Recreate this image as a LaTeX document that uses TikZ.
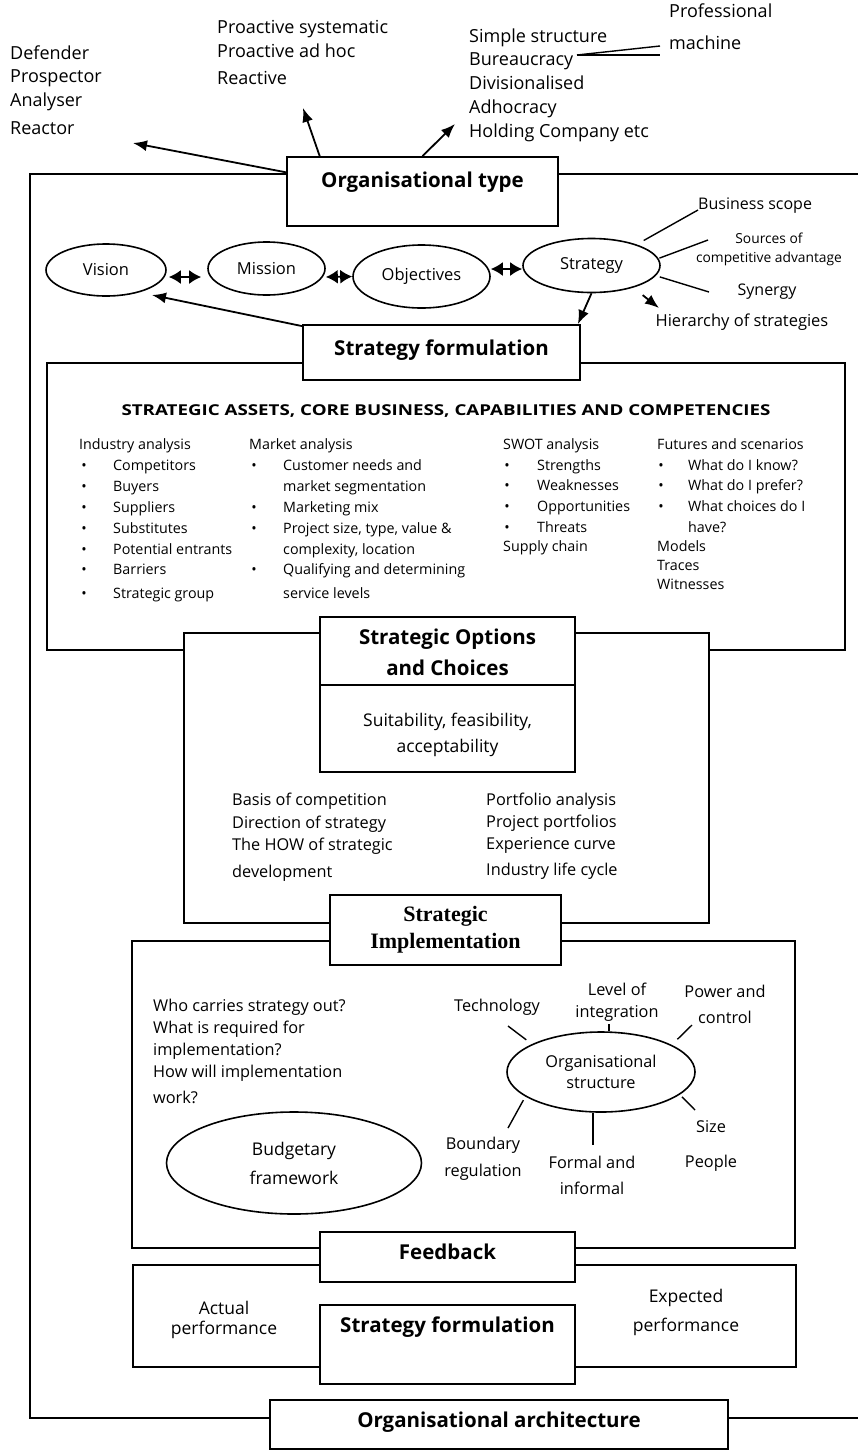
\documentclass[tikz,border=0pt]{standalone}
\usepackage{fontspec}
\usepackage{graphicx}
\setmainfont{Open Sans}
\newfontfamily\timesface{Liberation Serif}
\usetikzlibrary{arrows.meta,shapes.geometric}

\begin{document}
\begin{tikzpicture}[x=1pt,y=-1pt,
  frameline/.style={line width=1.8pt},
  panel/.style={draw, fill=white, inner sep=0pt, line width=1.8pt},
  oval/.style={draw, ellipse, inner sep=0pt, line width=1.6pt, align=center},
  txt/.style={inner sep=0pt, text height=1.45ex, text depth=.35ex},
  toptxt/.style={txt, font=\fontsize{18}{21}\selectfont},
  ovaltxt/.style={font=\fontsize{16.5}{19}\selectfont},
  smalltxt/.style={txt, font=\fontsize{14.3}{17}\selectfont},
  midtxt/.style={txt, font=\fontsize{16.3}{20}\selectfont},
  headtxt/.style={txt, font=\bfseries\fontsize{20.5}{25}\selectfont},
  ml/.style={inner sep=0pt, align=center},
  arr/.style={-{Latex[length=14pt,width=11pt]}, line width=1.8pt},
  dbl/.style={{Latex[length=12pt,width=14pt]}-{Latex[length=12pt,width=14pt]}, line width=1.8pt},
  spoke/.style={line width=1.4pt},
]
\useasboundingbox (0,0) rectangle (858,1452);

% ---------- outer frame (open on the right) ----------
\draw[frameline] (858,174) -- (30,174) -- (30,1418) -- (858,1418);

% ---------- panels, back to front ----------
\node[panel, minimum width=798, minimum height=287] (assets) at (446,506.5) {};
\node[panel, minimum width=277, minimum height=55, headtxt] (sf) at (441.5,352.5) {Strategy formulation};
\node[panel, minimum width=525, minimum height=290] (opts) at (446.5,778) {};
\node[panel, minimum width=255, minimum height=155] (optT) at (447.5,694.5) {};
\draw[frameline] ([yshift=-69pt]optT.north west) -- ([yshift=-69pt]optT.north east);
\node[panel, minimum width=663, minimum height=307] (impl) at (463.5,1094.5) {};
\node[panel, minimum width=231, minimum height=70, align=center,
      font=\timesface\bfseries\fontsize{22}{27}\selectfont] (implT) at (445.5,930) {Strategic\\Implementation};
\node[panel, minimum width=663, minimum height=102] (perf) at (464.5,1316) {};
\node[panel, minimum width=255, minimum height=50, headtxt] (fb) at (447.5,1257) {Feedback};
\node[panel, minimum width=255, minimum height=79] (sf2) at (447.5,1344.5) {};
\node[panel, minimum width=458, minimum height=49, headtxt] (arch) at (499,1424.5) {Organisational architecture};
\node[panel, minimum width=271, minimum height=69] (otype) at (422.5,191.5) {};
\node[headtxt] (otypeT) at (422.5,185) {Organisational type};

% ---------- top lists ----------
\foreach \t/\y [count=\i] in {Defender/57,Prospector/80,Analyser/104,Reactor/132}
  \node[toptxt, anchor=west] (stance\i) at (10,\y) {\t};
\foreach \t/\y [count=\i] in {Proactive systematic/31,Proactive ad hoc/55,Reactive/82}
  \node[toptxt, anchor=west] (mode\i) at (217,\y) {\t};
\foreach \t/\y [count=\i] in {Simple structure/40,Bureaucracy/63,Divisionalised/87,Adhocracy/111,Holding Company etc/135}
  \node[toptxt, anchor=west] (config\i) at (469,\y) {\t};
\node[toptxt, anchor=west] (prof1) at (669,15) {Professional};
\node[toptxt, anchor=west] (prof2) at (669,47) {machine};
\coordinate (fork) at (577,55);
\draw[spoke] (fork) -- ([xshift=-9pt,yshift=1pt]prof2.west);
\draw[spoke] (fork) -- ([xshift=-9pt,yshift=-8pt]prof2.west);

% arrows out of the organisational type box
\coordinate (stanceTip) at (133,143);
\coordinate (modeTip) at (303,108);
\coordinate (configTip) at (455,124);
\draw[arr] (otype.172) -- (stanceTip);
\draw[arr] (otype.161) -- (modeTip);
\draw[arr] (otype.north) -- (configTip);

% ---------- vision / mission / objectives / strategy ----------
\node[oval, ovaltxt, minimum width=120, minimum height=52] (vision) at (106,270) {Vision};
\node[oval, ovaltxt, minimum width=117, minimum height=53] (mission) at (266.5,268.5) {Mission};
\node[oval, ovaltxt, minimum width=137, minimum height=63] (objectives) at (421.5,276.5) {Objectives};
\node[oval, ovaltxt, minimum width=137, minimum height=54] (strategy) at (591.5,265.5) {Strategy};
\draw[dbl, shorten <=2pt, shorten >=6pt] ([yshift=-7pt]vision.east) -- ([yshift=-8.5pt]mission.west);
\draw[dbl] ([yshift=-8.5pt]mission.east) -- (objectives.west);
\draw[dbl] ([yshift=7.5pt]objectives.east) -- ([yshift=-3.5pt]strategy.west);

\node[txt, font=\fontsize{16}{19}\selectfont, anchor=west] (bscope) at (698,207) {Business scope};
\node[ml, font=\fontsize{13.8}{19}\selectfont] (sources) at (769,249.5) {Sources of\\competitive advantage};
\node[txt, font=\fontsize{16}{19}\selectfont] (synergy) at (767,293) {Synergy};
\node[txt, font=\fontsize{16.5}{19}\selectfont] (hier) at (742,324) {Hierarchy of strategies};
\coordinate (srcEnd) at (708,240);
\coordinate (synEnd) at (709,292);
\coordinate (hierTip) at (659,308);
\draw[spoke, shorten <=8pt] (strategy.25) -- ([yshift=-3pt]bscope.west);
\draw[spoke, shorten <=1pt] (strategy.6) -- (srcEnd);
\draw[spoke, shorten <=4pt] (strategy.-9) -- (synEnd);
\draw[arr, shorten <=12pt] (strategy.-28) -- (hierTip);
\draw[arr] (strategy.south) -- ([xshift=-3pt]sf.north east);
\coordinate (visTip) at (152,295);
\draw[arr] ([yshift=-2pt]sf.north west) -- (visTip);

% ---------- strategic assets ----------
\node[txt, font=\bfseries\fontsize{15}{18}\selectfont] (assetsT) at (446,413)
  {\scalebox{1.25}[1]{STRATEGIC ASSETS, CORE BUSINESS, CAPABILITIES AND COMPETENCIES}};

\node[smalltxt, anchor=west] (ind0) at (79,447) {Industry analysis};
\foreach \t/\y [count=\i] in {Competitors/468,Buyers/489,Suppliers/510,Substitutes/531,Potential entrants/552,Barriers/572,Strategic group/596}{
  \node[smalltxt] (indb\i) at (84,\y) {\textbullet};
  \node[smalltxt, anchor=west] (ind\i) at (113,\y) {\t};
}
\node[smalltxt, anchor=west] (mkt0) at (249,447) {Market analysis};
\foreach \t/\y [count=\i] in {Customer needs and/468,Marketing mix/510,{Project size, type, value \&}/531,Qualifying and determining/572}{
  \node[smalltxt] (mktb\i) at (254,\y) {\textbullet};
  \node[smalltxt, anchor=west] (mkt\i) at (283,\y) {\t};
}
\foreach \t/\y [count=\i] in {market segmentation/489,{complexity, location}/552,service levels/596}
  \node[smalltxt, anchor=west] (mktc\i) at (283,\y) {\t};

\node[smalltxt, anchor=west] (swot0) at (503,447) {SWOT analysis};
\foreach \t/\y [count=\i] in {Strengths/468,Weaknesses/488,Opportunities/509,Threats/530}{
  \node[smalltxt] (swotb\i) at (507,\y) {\textbullet};
  \node[smalltxt, anchor=west] (swot\i) at (537,\y) {\t};
}
\node[smalltxt, anchor=west] (supply) at (503,549) {Supply chain};

\node[smalltxt, anchor=west] (fut0) at (657,447) {Futures and scenarios};
\foreach \t/\y [count=\i] in {What do I know?/468,What do I prefer?/488,What choices do I/509}{
  \node[smalltxt] (futb\i) at (661,\y) {\textbullet};
  \node[smalltxt, anchor=west] (fut\i) at (688,\y) {\t};
}
\node[smalltxt, anchor=west] (fut4) at (688,530) {have?};
\foreach \t/\y [count=\i] in {Models/549,Traces/568,Witnesses/587}
  \node[smalltxt, anchor=west] (evid\i) at (657,\y) {\t};

% ---------- strategic options and choices ----------
\node[ml, font=\bfseries\fontsize{20.5}{31}\selectfont] (optHead) at (447.5,652.5) {Strategic Options\\and Choices};
\node[ml, font=\fontsize{17.5}{26}\selectfont] (optSub) at (447.5,735) {Suitability, feasibility,\\acceptability};
\foreach \t/\y [count=\i] in {Basis of competition/803,Direction of strategy/826,The HOW of strategic/848,development/875}
  \node[midtxt, anchor=west] (optL\i) at (232,\y) {\t};
\foreach \t/\y [count=\i] in {Portfolio analysis/803,Project portfolios/825,Experience curve/847,Industry life cycle/873}
  \node[midtxt, anchor=west] (optR\i) at (486,\y) {\t};

% ---------- strategic implementation ----------
\foreach \t/\y [count=\i] in {Who carries strategy out?/1009,What is required for/1031,implementation?/1053,How will implementation/1075,work?/1101}
  \node[midtxt, anchor=west] (how\i) at (153,\y) {\t};
\node[oval, minimum width=255, minimum height=102, font=\fontsize{17.5}{29}\selectfont] (budget) at (294,1163) {Budgetary\\framework};
\node[oval, minimum width=188, minimum height=80, font=\fontsize{16.3}{21}\selectfont] (orgs) at (601,1072) {Organisational\\structure};

\node[midtxt] (tech) at (497,1009) {Technology};
\node[ml, font=\fontsize{16.3}{22}\selectfont] (level) at (617,1002) {Level of\\integration};
\node[ml, font=\fontsize{16.3}{26}\selectfont] (power) at (725,1004) {Power and\\control};
\node[midtxt] (size) at (711,1130) {Size};
\node[midtxt] (people) at (711,1165) {People};
\node[ml, font=\fontsize{16.3}{26}\selectfont] (formal) at (592,1175) {Formal and\\informal};
\node[ml, font=\fontsize{16.3}{27}\selectfont] (boundary) at (483,1158.5) {Boundary\\regulation};

\coordinate (techEnd) at (508,1026);
\coordinate (lvlEnd) at (609,1024);
\coordinate (pwrEnd) at (692,1025);
\coordinate (sizeEnd) at (695,1110);
\coordinate (formalEnd) at (593,1145);
\coordinate (bndEnd) at (508,1128);
\draw[spoke, shorten <=7pt] (orgs.158.5) -- (techEnd);
\draw[spoke] ([xshift=8pt]orgs.north) -- (lvlEnd);
\draw[spoke, shorten <=8pt] (orgs.21.3) -- (pwrEnd);
\draw[spoke, shorten <=3pt] (orgs.-16.7) -- (sizeEnd);
\draw[spoke] ([xshift=-8pt]orgs.south) -- (formalEnd);
\draw[spoke, shorten <=4pt] (orgs.-162.4) -- (bndEnd);

% ---------- feedback loop ----------
\node[headtxt] (sf2T) at (447.5,1330) {Strategy formulation};
\node[ml, font=\fontsize{17.5}{20}\selectfont] (actual) at (224,1320) {Actual\\performance};
\node[ml, font=\fontsize{17.5}{29}\selectfont] (expected) at (686,1312.5) {Expected\\performance};

\end{tikzpicture}
\end{document}
